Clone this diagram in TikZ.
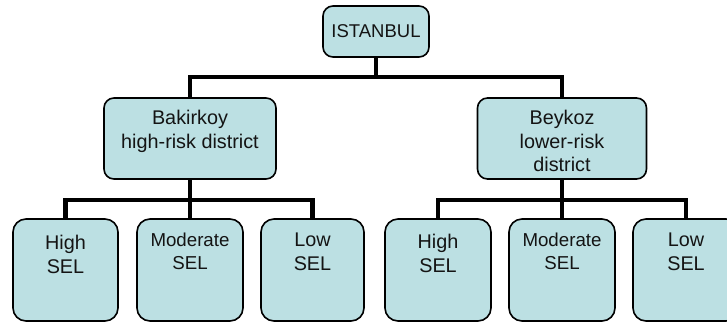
\documentclass[tikz,border=0pt]{standalone}
\usepackage{fontspec}
\setmainfont{Liberation Sans}
\definecolor{boxfill}{RGB}{188,224,227}
\definecolor{txt}{RGB}{20,20,20}
\begin{document}
\begin{tikzpicture}[x=1pt,y=-1pt,
  box/.style={draw=black, line width=1.6pt, fill=boxfill, rounded corners=10pt, inner sep=0pt},
  lowbox/.style={box, rounded corners=13pt, minimum width=106pt, minimum height=102pt},
  lbl/.style={anchor=north, align=center, inner sep=0pt, text=txt, font=\fontsize{19.8}{23.5}\selectfont},
  conn/.style={line width=4.5pt, line join=miter, draw=black}]
\useasboundingbox (0,0) rectangle (727,322);

% boxes
\node[box, minimum width=106pt, minimum height=51pt, text=txt, font=\fontsize{18.5}{22}\selectfont] (ist) at (376,31.5) {ISTANBUL};
\node[box, minimum width=172pt, minimum height=81pt] (bak) at (190,138.5) {};
\node[box, minimum width=169pt, minimum height=81pt] (bey) at (562,138.5) {};

\node[lowbox, minimum width=105pt] (lh) at (65.5,270) {};
\node[lowbox] (lm) at (190,270) {};
\node[lowbox, minimum width=103pt] (ll) at (312.5,270) {};
\node[lowbox] (rh) at (438,270) {};
\node[lowbox] (rm) at (562,270) {};
\node[lowbox] (rl) at (686,270) {};

% labels
\node[lbl] (bakt) at (190,110) {Bakirkoy\\high-risk district};
\node[lbl] (beyt) at (562,110) {Beykoz\\lower-risk\\district};
\node[lbl] (lht) at (65.5,235) {High\\SEL};
\node[lbl, font=\fontsize{18.7}{23}\selectfont] (lmt) at (190,233) {Moderate\\SEL};
\node[lbl] (llt) at (312.5,233) {Low\\SEL};
\node[lbl] (rht) at (438,234) {High\\SEL};
\node[lbl, font=\fontsize{18.7}{23}\selectfont] (rmt) at (562,233) {Moderate\\SEL};
\node[lbl] (rlt) at (686,233) {Low\\SEL};

% connectors
\coordinate (j1) at (376,77);
\coordinate (j2) at (190,200);
\coordinate (j3) at (562,200);
\draw[conn] (ist.south) -- (j1);
\draw[conn] (bak.north) |- (j1) -| (bey.north);
\draw[conn] (bak.south) -- (lm.north);
\draw[conn] (lh.north) |- (j2) -| (ll.north);
\draw[conn] (bey.south) -- (rm.north);
\draw[conn] (rh.north) |- (j3) -| (rl.north);
\end{tikzpicture}
\end{document}
